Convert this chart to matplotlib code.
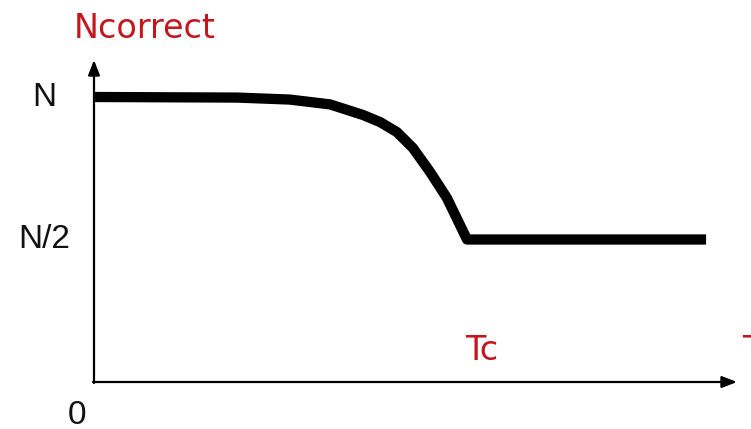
import matplotlib
matplotlib.use("Agg")
import matplotlib.pyplot as plt

# Fraction of correct outputs vs. temperature (T in units of Tc, N in units of N)
t_values = [0.0, 0.383, 0.525, 0.633, 0.721, 0.767, 0.812, 0.855, 0.901, 0.946,
            1.0, 1.641]
n_values = [1.0, 0.998, 0.991, 0.974, 0.937, 0.912, 0.877, 0.821, 0.737, 0.646,
            0.5, 0.5]

y_tick_values = [1.0, 0.5, 0.0]
y_tick_labels = ["N", "N/2", "0"]

RED = "#c4161c"
BLACK_FONT = "Liberation Sans"
RED_FONT = "DejaVu Sans"

# pixel geometry of the drawing: origin and scale
X0, Y0 = 94, 382
SX, SY = 373, 285


def px(x):
    return (x - X0) / SX


def py(y):
    return (Y0 - y) / SY


fig = plt.figure(figsize=(7.51, 4.29), dpi=100)
ax = fig.add_axes([0, 0, 1, 1])
ax.set_xlim(px(0), px(751))
ax.set_ylim(py(429), py(0))
ax.axis("off")

# coordinate axes with arrow heads
arrow = dict(arrowstyle="-|>,head_length=0.9,head_width=0.35", color="black",
             lw=1.6, shrinkA=0, shrinkB=0)
ax.annotate("", xy=(px(737), 0), xytext=(px(93), 0), arrowprops=arrow)
ax.annotate("", xy=(0, py(60)), xytext=(0, py(383)), arrowprops=arrow)

# the curve
ax.plot(t_values, n_values, color="black", lw=7.4, solid_capstyle="butt",
        solid_joinstyle="round", zorder=3)

# y labels
ax.text(px(44), y_tick_values[0], y_tick_labels[0], fontsize=24, family=BLACK_FONT,
        ha="center", va="center", color="#111111")
ax.text(px(44), y_tick_values[1], y_tick_labels[1], fontsize=24, family=BLACK_FONT,
        ha="center", va="center", color="#111111")
ax.text(px(77), py(424), y_tick_labels[2], fontsize=24, family=BLACK_FONT,
        ha="center", va="baseline", color="#111111")

# axis titles and Tc marker
ax.text(px(74), py(38), "Ncorrect", fontsize=24, family=RED_FONT,
        ha="left", va="baseline", color=RED)
ax.text(px(482), py(360), "Tc", fontsize=24, family=RED_FONT,
        ha="center", va="baseline", color=RED)
ax.text(px(742), py(360), "T", fontsize=24, family=RED_FONT,
        ha="left", va="baseline", color=RED, clip_on=False)

fig.savefig("out.png", dpi=100)
